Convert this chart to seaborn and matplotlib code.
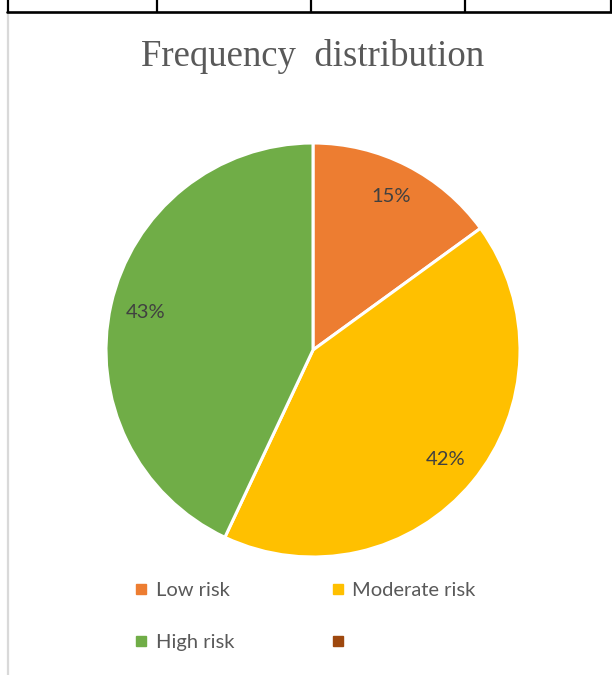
import matplotlib
matplotlib.use("Agg")
import matplotlib.pyplot as plt
from matplotlib.lines import Line2D
import seaborn as sns

# data
categories = ["Low risk", "Moderate risk", "High risk", ""]
shares = [15, 42, 43, 0]
colors = ["#ED7D31", "#FFC000", "#70AD47", "#9E480E"]

sns.set_theme(style="white")
plt.rcParams["font.family"] = ["Lato", "DejaVu Sans"]

W, H = 612, 675
fig = plt.figure(figsize=(W / 100, H / 100), dpi=100)

# pie: centre (313, 350), radius 207 in pixels
cx, cy, r = 313, 350, 207
ax = fig.add_axes([(cx - r) / W, (H - cy - r) / H, 2 * r / W, 2 * r / H])
vals = [v for v in shares if v > 0]
cols = [c for c, v in zip(colors, shares) if v > 0]
wedges, _, autotexts = ax.pie(vals, colors=cols, startangle=90, counterclock=False,
                              autopct="%1.0f%%", pctdistance=0.83,
                              wedgeprops=dict(edgecolor="white", linewidth=2.2),
                              textprops=dict(color="#404040", fontsize=14.5))
ax.set_xlim(-1, 1)
ax.set_ylim(-1, 1)
ax.set_aspect("equal")
ax.axis("off")

fig.text(313 / W, 1 - 57 / H, "Frequency  distribution", ha="center", va="center",
         fontsize=26.5, color="#595959", family="Liberation Serif")

# legend fills row by row in the reference (matplotlib fills column by column)
order = [0, 2, 1, 3]
handles = [Line2D([], [], marker="s", linestyle="none", markersize=6.5,
                  markerfacecolor=colors[i], markeredgecolor=colors[i]) for i in order]
leg = fig.legend(handles, [categories[i] for i in order], ncol=2, loc="upper left",
                 bbox_to_anchor=(135 / W, 1 - 582 / H), frameon=False,
                 fontsize=14.5, handlelength=0.6, handletextpad=0.42,
                 columnspacing=4.85, labelspacing=1.75, borderpad=0, borderaxespad=0,
                 labelcolor="#595959")

# surrounding document table / page border
def pline(x0, y0, x1, y1, **kw):
    fig.add_artist(Line2D([x0 / W, x1 / W], [1 - y0 / H, 1 - y1 / H],
                          transform=fig.transFigure, **kw))

pline(8, 12, 8, 675, color="#d9d9d9", linewidth=1.6)
pline(7, 12, 612, 12, color="black", linewidth=1.9)
for x in [8, 157, 311, 465, 611]:
    pline(x, 0, x, 12, color="black", linewidth=1.6)

fig.savefig("out.png", dpi=100)
